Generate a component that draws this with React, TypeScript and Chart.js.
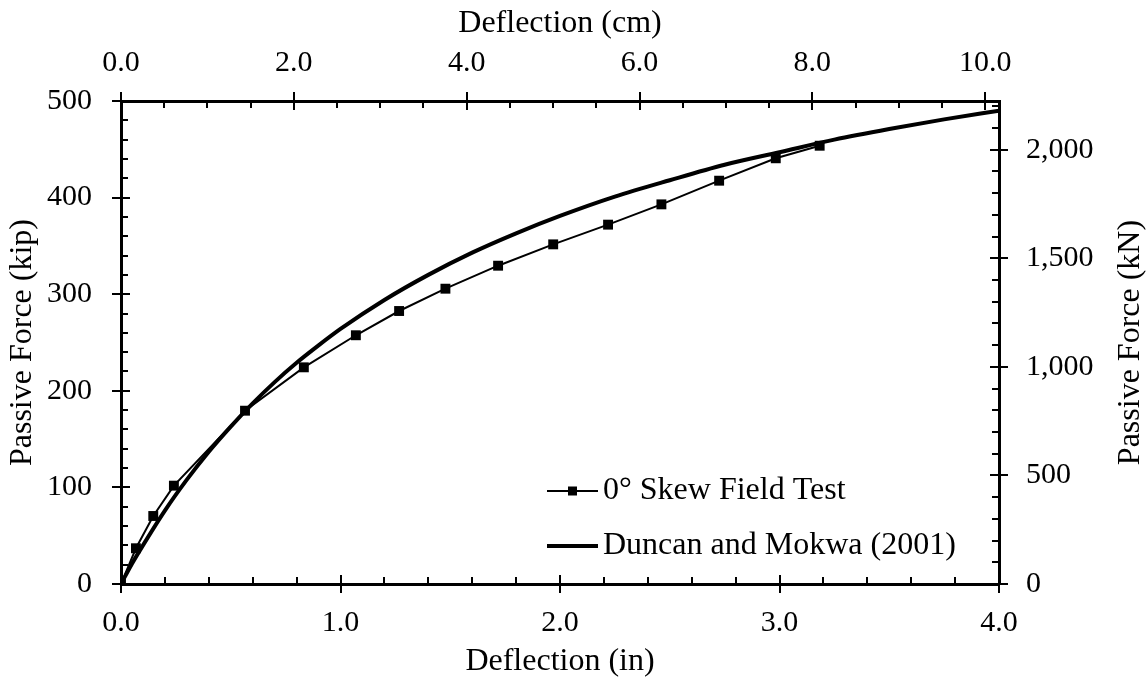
import React, { useEffect, useRef } from 'react';
import { Chart, registerables } from 'chart.js';

Chart.register(...registerables);

// ---- Data ----
const testDeflectionIn = [0, 0.068, 0.147, 0.241, 0.565, 0.833, 1.07, 1.267, 1.478, 1.718, 1.969, 2.219, 2.462, 2.725, 2.983, 3.183];
const testForceKip = [0, 37, 70.4, 101.8, 179.4, 224.3, 257.5, 282.6, 305.7, 329.5, 351.6, 372, 393, 417.5, 440.7, 453.7];

const dmDeflectionIn = [0, 0.05, 0.1, 0.2, 0.3, 0.4, 0.5, 0.6, 0.7, 0.8, 0.9, 1.0, 1.2, 1.4, 1.6, 1.8, 2.0, 2.25, 2.5, 2.75, 3.0, 3.25, 3.5, 3.75, 4.0];
const dmForceKip = [0, 21, 40, 76, 108, 137, 163, 187, 209, 229, 247, 264, 294, 320, 343, 363, 381, 401, 418, 434, 447, 460, 471, 481, 490];

const seriesLabels = ['0\u00B0 Skew Field Test', 'Duncan and Mokwa (2001)'];

// ---- Axis ticks ----
const inTicks = [0, 1, 2, 3, 4];
const cmTicks = [0, 2, 4, 6, 8, 10];
const kipTicks = [0, 100, 200, 300, 400, 500];
const kNTicks = [0, 500, 1000, 1500, 2000];

const IN_TO_CM = 2.54;
const KIP_TO_KN = 4.44822;

const FONT = '"Liberation Serif", "Times New Roman", serif';

const axisSpecs = [
  { id: 'x', major: 1, minor: 0.2, min: 0, max: 4 },
  { id: 'x2', major: 2, minor: 0.5, min: 0, max: 10 },
  { id: 'y', major: 100, minor: 20, min: 0, max: 500 },
  { id: 'y2', major: 500, minor: 100, min: 0, max: 2200 },
];

const tickPlugin = {
  id: 'customTicks',
  afterDraw(chart: any) {
    const ctx = chart.ctx;
    const area = chart.chartArea;
    ctx.save();
    ctx.strokeStyle = '#000';
    ctx.lineWidth = 2;
    ctx.lineCap = 'butt';
    for (const spec of axisSpecs) {
      const scale = chart.scales[spec.id];
      const n = Math.round((spec.max - spec.min) / spec.minor);
      for (let k = 0; k <= n; k++) {
        const v = spec.min + k * spec.minor;
        const r = v / spec.major;
        const isMajor = Math.abs(r - Math.round(r)) < 1e-6;
        const p = Math.round(scale.getPixelForValue(v)) + 0.0;
        ctx.beginPath();
        if (spec.id === 'x' || spec.id === 'x2') {
          const base = spec.id === 'x' ? area.bottom : area.top;
          const dir = spec.id === 'x' ? -1 : 1;
          if (isMajor) {
            ctx.moveTo(p, base - 9);
            ctx.lineTo(p, base + 9);
          } else {
            ctx.moveTo(p, base);
            ctx.lineTo(p, base + dir * 7);
          }
        } else {
          const base = spec.id === 'y' ? area.left : area.right;
          const dir = spec.id === 'y' ? 1 : -1;
          if (isMajor) {
            ctx.moveTo(base - 9, p);
            ctx.lineTo(base + 9, p);
          } else {
            ctx.moveTo(base, p);
            ctx.lineTo(base + dir * 7, p);
          }
        }
        ctx.stroke();
      }
    }
    ctx.restore();
  },
};

const legendPlugin = {
  id: 'customLegend',
  afterDraw(chart: any) {
    const ctx = chart.ctx;
    const { left, top, bottom } = chart.chartArea;
    const ds = chart.data.datasets;
    const x0 = left + 426;
    const x1 = left + 477;
    const tx = left + 482;
    const rows = [top + 390, top + 445];
    ctx.save();
    ctx.font = `32px ${FONT}`;
    ctx.fillStyle = '#000';
    ctx.textBaseline = 'middle';
    ctx.textAlign = 'left';
    rows.forEach((y, i) => {
      const d = ds[i];
      ctx.strokeStyle = '#000';
      ctx.lineWidth = d.borderWidth;
      ctx.beginPath();
      ctx.moveTo(x0, y);
      ctx.lineTo(x1, y);
      ctx.stroke();
      if (d.pointRadius > 0) {
        const s = 9;
        ctx.fillRect((x0 + x1) / 2 - s / 2, y - s / 2, s, s);
      }
      ctx.fillText(d.label, tx, y);
    });
    // right axis title (reads bottom-to-top)
    ctx.save();
    ctx.translate(chart.width - 17, (top + bottom) / 2);
    ctx.rotate(-Math.PI / 2);
    ctx.textAlign = 'center';
    ctx.textBaseline = 'middle';
    ctx.fillText('Passive Force (kN)', 0, 0);
    ctx.restore();
    ctx.restore();
  },
};

export default function App() {
  const canvasRef = useRef<HTMLCanvasElement | null>(null);

  useEffect(() => {
    if (!canvasRef.current) return;
    const tickFont = { family: FONT, size: 30 };
    const titleFont = { family: FONT, size: 32 };
    const common = {
      grid: { display: false, drawTicks: false },
      border: { display: true, color: '#000', width: 3 },
    };
    const chart = new Chart(canvasRef.current, {
      type: 'line',
      data: {
        datasets: [
          {
            label: seriesLabels[0],
            data: testDeflectionIn.map((x, i) => ({ x, y: testForceKip[i] })),
            borderColor: '#000',
            backgroundColor: '#000',
            borderWidth: 2,
            pointStyle: 'rect',
            pointRadius: 7,
            pointBorderWidth: 0,
            pointBackgroundColor: '#000',
            xAxisID: 'x',
            yAxisID: 'y',
            order: 0,
          },
          {
            label: seriesLabels[1],
            data: dmDeflectionIn.map((x, i) => ({ x, y: dmForceKip[i] })),
            borderColor: '#000',
            backgroundColor: '#000',
            borderWidth: 4,
            pointRadius: 0,
            cubicInterpolationMode: 'monotone',
            xAxisID: 'x',
            yAxisID: 'y',
            order: 1,
          },
        ],
      },
      options: {
        responsive: false,
        animation: false,
        events: [],
        layout: { padding: 0 },
        plugins: { legend: { display: false }, tooltip: { enabled: false } },
        scales: {
          x: {
            type: 'linear',
            position: 'bottom',
            min: 0,
            max: 4,
            ...common,
            afterBuildTicks: (s: any) => { s.ticks = inTicks.map((v) => ({ value: v })); },
            afterFit: (s: any) => { s.height = 101; },
            ticks: {
              font: tickFont, color: '#000', padding: 21, maxRotation: 0, autoSkip: false,
              callback: (v: any) => Number(v).toFixed(1),
            },
            title: { display: true, text: 'Deflection (in)', font: titleFont, color: '#000', padding: { top: 0, bottom: 4 } },
          },
          x2: {
            type: 'linear',
            position: 'top',
            min: 0,
            max: 4 * IN_TO_CM,
            ...common,
            afterBuildTicks: (s: any) => { s.ticks = cmTicks.map((v) => ({ value: v })); },
            afterFit: (s: any) => { s.height = 101; },
            ticks: {
              font: tickFont, color: '#000', padding: 20, maxRotation: 0, autoSkip: false,
              callback: (v: any) => Number(v).toFixed(1),
            },
            title: { display: true, text: 'Deflection (cm)', font: titleFont, color: '#000', padding: { top: 4, bottom: 0 } },
          },
          y: {
            type: 'linear',
            position: 'left',
            min: 0,
            max: 500,
            ...common,
            afterBuildTicks: (s: any) => { s.ticks = kipTicks.map((v) => ({ value: v })); },
            afterFit: (s: any) => { s.width = 121; },
            ticks: {
              font: tickFont, color: '#000', padding: 29, autoSkip: false,
              callback: (v: any) => String(v),
            },
            title: { display: true, text: 'Passive Force (kip)', font: titleFont, color: '#000', padding: { top: 3, bottom: 0 } },
          },
          y2: {
            type: 'linear',
            position: 'right',
            min: 0,
            max: 500 * KIP_TO_KN,
            ...common,
            afterBuildTicks: (s: any) => { s.ticks = kNTicks.map((v) => ({ value: v })); },
            afterFit: (s: any) => { s.width = 149; },
            ticks: {
              font: tickFont, color: '#000', padding: 27, autoSkip: false,
              callback: (v: any) => Number(v).toLocaleString('en-US'),
            },
            title: { display: false },
          },
        },
      },
      plugins: [tickPlugin, legendPlugin],
    } as any);
    return () => chart.destroy();
  }, []);

  return (
    <div style={{ position: 'absolute', left: 0, top: 0, width: 1148, height: 685, background: '#fff' }}>
      <canvas ref={canvasRef} width={1148} height={685} style={{ display: 'block' }} />
    </div>
  );
}
